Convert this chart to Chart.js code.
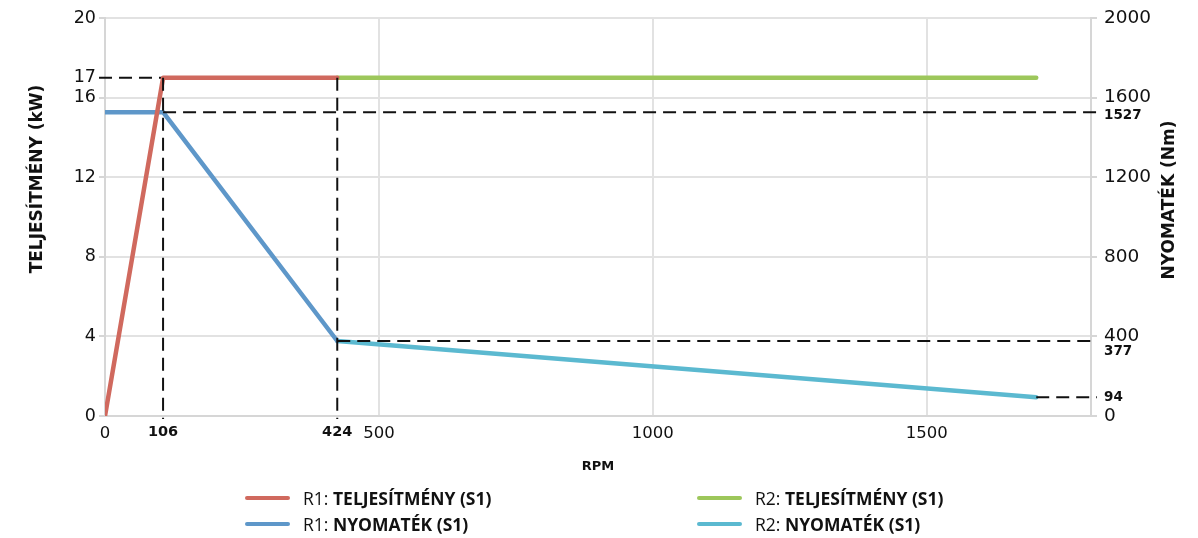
<!DOCTYPE html>
<html>
<head>
<meta charset="utf-8">
<script src="https://cdn.jsdelivr.net/npm/chart.js@4"></script>
<style>
  html, body { margin: 0; padding: 0; background: #fff; }
  #wrap { position: relative; width: 1198px; height: 538px; }
  #legend { position: absolute; left: 0; top: 486px; width: 1198px; font-family: "Open Sans", sans-serif; font-size: 17.5px; color: #111; }
  .item { position: absolute; display: flex; align-items: center; height: 24px; }
  .item .sw { width: 45px; height: 4px; border-radius: 2px; margin-right: 13px; }
  .item b { font-weight: 700; }
</style>
</head>
<body>
<div id="wrap">
  <canvas id="chart" width="1198" height="538"></canvas>
  <div id="legend"></div>
</div>
<script>
// data
const rpmR1 = [0, 106, 424];
const powerR1 = [0, 17, 17];
const torqueR1 = [1527, 1527, 377];

const rpmR2 = [424, 1700];
const powerR2 = [17, 17];
const torqueR2 = [377, 94];

// dashed guide values
const guideRpm = [106, 424];
const guidePower = 17;
const guideTorque = [1527, 377, 94];
const guideTorqueFrom = [106, 424, 1700];

const xTicks = [0, 106, 424, 500, 1000, 1500];
const powerTicks = [0, 4, 8, 12, 16, 17, 20];
const torqueTicks = [0, 94, 377, 400, 800, 1200, 1527, 1600, 2000];

const seriesNames = [
  ["R1:", "TELJESÍTMÉNY (S1)"],
  ["R2:", "TELJESÍTMÉNY (S1)"],
  ["R1:", "NYOMATÉK (S1)"],
  ["R2:", "NYOMATÉK (S1)"]
];
const colors = ["#d0695e", "#9dc75b", "#5e97c9", "#5bb9d0"];

const FONT = "DejaVu Sans";
const gridCol = "#e2e2e2";
const axisCol = "#d6d6d6";
const clear = "rgba(0,0,0,0)";

const pts = (xs, ys) => xs.map((x, i) => ({ x, y: ys[i] }));
const tv = c => (c && c.tick) ? c.tick.value : null;

const lineDs = (label, data, color, axis) => ({
  label, data, yAxisID: axis,
  borderColor: color, backgroundColor: color,
  borderWidth: 4.5, pointRadius: 0,
  borderCapStyle: "round", borderJoinStyle: "round",
  tension: 0, fill: false
});

function dashed(ctx) {
  ctx.strokeStyle = "#111";
  ctx.lineWidth = 2;
  ctx.setLineDash([13, 7]);
}
function seg(ctx, ax, ay, bx, by) {
  ctx.beginPath(); ctx.moveTo(ax, ay); ctx.lineTo(bx, by); ctx.stroke();
}
function vtitle(ctx, text, x, y) {
  ctx.save();
  ctx.translate(x, y);
  ctx.rotate(-Math.PI / 2);
  ctx.font = "bold 17px '" + FONT + "'";
  ctx.fillStyle = "#111";
  ctx.textAlign = "center";
  ctx.textBaseline = "middle";
  ctx.fillText(text, 0, 0);
  ctx.restore();
}

const guides = {
  id: "guides",
  beforeDatasetsDraw(chart) {
    // the 17 kW guide sits under the power curve
    const { ctx, chartArea } = chart;
    const x = chart.scales.x, y = chart.scales.y;
    const py = y.getPixelForValue(guidePower);
    ctx.save();
    dashed(ctx);
    seg(ctx, chartArea.left - 6, py, x.getPixelForValue(guideRpm[guideRpm.length - 1]), py);
    ctx.restore();
  },
  afterDatasetsDraw(chart) {
    const { ctx, chartArea } = chart;
    const x = chart.scales.x, y = chart.scales.y, y1 = chart.scales.y1;
    const py = y.getPixelForValue(guidePower);
    ctx.save();
    dashed(ctx);
    guideRpm.forEach(v => {
      const px = x.getPixelForValue(v);
      seg(ctx, px, py, px, chartArea.bottom + 3);
    });
    guideTorque.forEach((v, i) => {
      const p = y1.getPixelForValue(v);
      seg(ctx, x.getPixelForValue(guideTorqueFrom[i]), p, chartArea.right + 6, p);
    });
    ctx.restore();
  },
  afterDraw(chart) {
    const { ctx } = chart;
    vtitle(ctx, "TELJESÍTMÉNY (kW)", 38, 179);
    vtitle(ctx, "NYOMATÉK (Nm)", 1170, 200);
  }
};

const chart = new Chart(document.getElementById("chart"), {
  type: "line",
  data: {
    datasets: [
      lineDs(seriesNames[0].join(" "), pts(rpmR1, powerR1), colors[0], "y"),
      lineDs(seriesNames[1].join(" "), pts(rpmR2, powerR2), colors[1], "y"),
      lineDs(seriesNames[2].join(" "), pts(rpmR1, torqueR1), colors[2], "y1"),
      lineDs(seriesNames[3].join(" "), pts(rpmR2, torqueR2), colors[3], "y1")
    ]
  },
  options: {
    responsive: false,
    animation: false,
    layout: { padding: { top: 17, bottom: 60, left: 0, right: 0 } },
    plugins: { legend: { display: false }, tooltip: { enabled: false } },
    scales: {
      x: {
        type: "linear", min: 0, max: 1800,
        afterBuildTicks: s => { s.ticks = xTicks.map(v => ({ value: v })); },
        afterFit: s => { s.height = 62; },
        grid: {
          color: c => (tv(c) === 0 || guideRpm.includes(tv(c))) ? clear : gridCol,
          lineWidth: 2, drawTicks: false
        },
        border: { color: axisCol, width: 2 },
        ticks: {
          autoSkip: false, maxRotation: 0, padding: 8, color: "#111",
          font: c => guideRpm.includes(tv(c))
            ? { family: FONT, size: 14.5, weight: "bold" }
            : { family: FONT, size: 16.5 },
          callback: v => String(v)
        },
        title: {
          display: true, text: "RPM", color: "#111",
          font: { family: FONT, size: 13, weight: "bold" },
          padding: { top: 4, bottom: 4 }
        }
      },
      y: {
        position: "left", min: 0, max: 20,
        afterBuildTicks: s => { s.ticks = powerTicks.map(v => ({ value: v })); },
        afterFit: s => { s.width = 105; },
        grid: {
          color: c => tv(c) === guidePower ? clear : gridCol,
          tickColor: c => tv(c) === guidePower ? clear : axisCol,
          lineWidth: 2, tickLength: 6
        },
        border: { color: axisCol, width: 2 },
        ticks: {
          autoSkip: false, padding: 3, color: "#111",
          font: { family: FONT, size: 17.5 },
          callback: v => String(v)
        }
      },
      y1: {
        position: "right", min: 0, max: 2000,
        afterBuildTicks: s => { s.ticks = torqueTicks.map(v => ({ value: v })); },
        afterFit: s => { s.width = 107; },
        grid: {
          drawOnChartArea: false,
          tickColor: c => guideTorque.includes(tv(c)) ? clear : axisCol,
          lineWidth: 2, tickLength: 6
        },
        border: { color: axisCol, width: 2 },
        ticks: {
          autoSkip: false, padding: 7, color: "#111",
          font: c => {
            const v = tv(c);
            if (v === 377) return { family: FONT, size: 13.5, weight: "bold", lineHeight: 1.6 };
            if (v === 1527) return { family: FONT, size: 13.5, weight: "bold", lineHeight: 0.5 };
            if (guideTorque.includes(v)) return { family: FONT, size: 13.5, weight: "bold" };
            return { family: FONT, size: 18.5 };
          },
          callback: v => (v === 377 || v === 1527) ? ["", String(v)] : String(v)
        }
      }
    }
  },
  plugins: [guides]
});

// legend in two columns like the reference
const legend = document.getElementById("legend");
const legendPos = [[245, 0], [697, 0], [245, 26], [697, 26]];
seriesNames.forEach((n, i) => {
  const el = document.createElement("div");
  el.className = "item";
  el.style.left = legendPos[i][0] + "px";
  el.style.top = legendPos[i][1] + "px";
  el.innerHTML = '<span class="sw" style="background:' + colors[i] + '"></span><span>' + n[0] + ' <b>' + n[1] + '</b></span>';
  legend.appendChild(el);
});
</script>
</body>
</html>
